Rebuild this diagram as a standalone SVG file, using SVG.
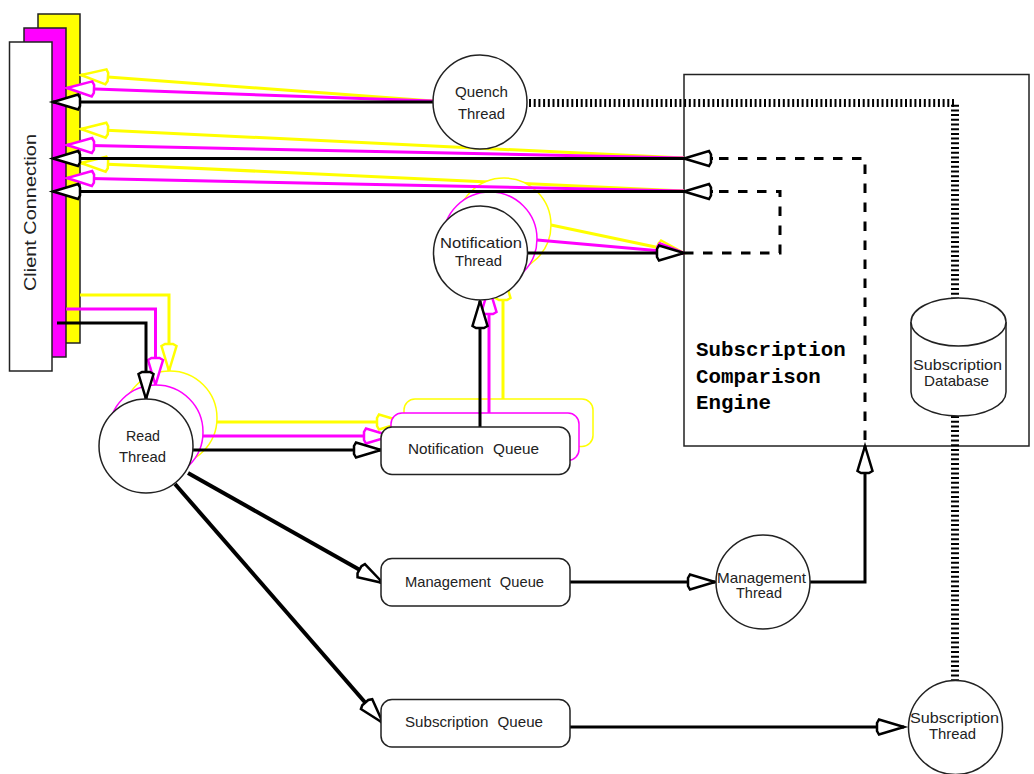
<svg xmlns="http://www.w3.org/2000/svg" width="1034" height="774" viewBox="0 0 1034 774">
<style>
.n{fill:#fff;stroke:#222;stroke-width:1.5}
.ny{fill:#fff;stroke:#ff0;stroke-width:1.5}
.nm{fill:#fff;stroke:#f0f;stroke-width:1.5}
.c{fill:none;stroke-linejoin:miter}
.k{stroke:#000;stroke-width:3;marker-end:url(#hk)}
.kt{stroke:#000;stroke-width:4;marker-end:url(#hk)}
.m{stroke:#f0f;stroke-width:3;marker-end:url(#hm)}
.y{stroke:#ff0;stroke-width:3;marker-end:url(#hy)}
.d{stroke:#000;stroke-width:3;stroke-dasharray:9.5 9.5}
.h{stroke:#000;stroke-width:8;stroke-dasharray:2 2.7}
text{font-family:"Liberation Sans",Arial,sans-serif;font-size:15px;fill:#222;text-anchor:start}
.q{word-spacing:5px}
.t{font-family:"Liberation Mono","Courier New",monospace;font-weight:bold;font-size:20.8px;fill:#000}
.cl{font-size:17px}
</style>
<defs>
<marker id="hk" markerUnits="userSpaceOnUse" markerWidth="40" markerHeight="30" refX="32" refY="12" orient="auto" overflow="visible"><path d="M32,12L7,4.500L5,8V16L7,19.500Z" fill="#fff" stroke="#000" stroke-width="2.500"/></marker>
<marker id="hm" markerUnits="userSpaceOnUse" markerWidth="40" markerHeight="30" refX="32" refY="12" orient="auto" overflow="visible"><path d="M32,12L7,4.500L5,8V16L7,19.500Z" fill="#fff" stroke="#f0f" stroke-width="2.500"/></marker>
<marker id="hy" markerUnits="userSpaceOnUse" markerWidth="40" markerHeight="30" refX="32" refY="12" orient="auto" overflow="visible"><path d="M32,12L7,4.500L5,8V16L7,19.500Z" fill="#fff" stroke="#ff0" stroke-width="2.500"/></marker>
</defs>
<rect width="1034" height="774" fill="#fff"/>
<g id="engine">
<rect class="n" x="684" y="74.500" width="345" height="371.500"/>
<text class="t" x="696" y="356">Subscription</text>
<text class="t" x="696" y="383">Comparison</text>
<text class="t" x="696" y="409">Engine</text>
</g>
<g id="client-yellow"><rect x="38" y="14" width="42" height="329" fill="#ff0" stroke="#222" stroke-width="1.500"/></g>
<g id="connectors-yellow" class="c">
<path class="y" d="M433,101L81,75"/>
<path class="y" d="M684,158L81,129"/>
<path class="y" d="M684,191L81,163"/>
<path class="y" d="M80,295H169V371"/>
<path class="y" d="M217,422H404"/>
<path class="y" d="M503,399V273"/>
<path class="y" d="M551,225L684,253"/>
</g>
<g id="read-yellow"><circle class="ny" cx="170" cy="418" r="47"/></g>
<g id="notification-thread-yellow"><circle class="ny" cx="504" cy="225" r="47"/></g>
<g id="notification-queue-yellow"><rect class="ny" x="404" y="399" width="189" height="47.500" rx="11"/></g>
<g id="client-magenta"><rect x="24" y="28" width="42" height="329" fill="#f0f" stroke="#222" stroke-width="1.500"/></g>
<g id="connectors-magenta" class="c">
<path class="m" d="M433,101L67,88"/>
<path class="m" d="M684,158L67,145"/>
<path class="m" d="M684,191L67,178"/>
<path class="m" d="M66,309H155.500V385"/>
<path class="m" d="M203,436H391"/>
<path class="m" d="M489,413V287"/>
<path class="m" d="M537,240L684,253"/>
</g>
<g id="read-magenta"><circle class="nm" cx="156" cy="432" r="47"/></g>
<g id="notification-thread-magenta"><circle class="nm" cx="490" cy="239" r="47"/></g>
<g id="notification-queue-magenta"><rect class="nm" x="391" y="413" width="188" height="47.500" rx="11"/></g>
<g id="client"><rect class="n" x="9.500" y="42" width="42.500" height="329"/>
<text class="cl" transform="translate(36,291) rotate(-90)" textLength="157" lengthAdjust="spacingAndGlyphs">Client Connection</text></g>
<g id="connectors" class="c">
<path class="k" d="M433,102H53"/>
<path class="k" d="M684,158.500H53"/>
<path class="k" d="M684,191.500H53"/>
<path class="k" d="M527,253H684"/>
<path class="k" d="M57,323H146V399"/>
<path class="k" d="M193,450H381"/>
<path class="kt" d="M188,473L383,583"/>
<path class="kt" d="M175,484L383,723"/>
<path class="k" d="M480,427V301"/>
<path class="k" d="M570,582H715"/>
<path class="k" d="M810,582H865V446"/>
<path class="k" d="M570,727H904"/>
<path class="d" d="M719,158.500H865V446"/>
<path class="d" d="M719,191.500H780V253H684"/>
<path class="k" d="M713,158.500H684"/>
<path class="k" d="M713,191.500H684"/>
<path class="h" d="M529,103H955V298"/>
<path class="h" d="M955,416V681"/>
</g>
<g id="quench-thread"><circle class="n" cx="480" cy="102" r="47"/>
<text x="455" y="97" textLength="53" lengthAdjust="spacingAndGlyphs">Quench</text>
<text x="458" y="119" textLength="47" lengthAdjust="spacingAndGlyphs">Thread</text></g>
<g id="notification-thread"><circle class="n" cx="480.500" cy="253" r="47"/>
<text x="440" y="248" textLength="82" lengthAdjust="spacingAndGlyphs">Notification</text>
<text x="455" y="266" textLength="47" lengthAdjust="spacingAndGlyphs">Thread</text></g>
<g id="read-thread"><circle class="n" cx="146" cy="446" r="47"/>
<text x="126" y="441" textLength="34" lengthAdjust="spacingAndGlyphs">Read</text>
<text x="119" y="462" textLength="47" lengthAdjust="spacingAndGlyphs">Thread</text></g>
<g id="notification-queue"><rect class="n" x="381" y="427" width="189" height="47.500" rx="11"/>
<text class="q" x="408" y="454" textLength="131" lengthAdjust="spacingAndGlyphs">Notification Queue</text></g>
<g id="management-queue"><rect class="n" x="381" y="558.500" width="189" height="47.500" rx="11"/>
<text class="q" x="405" y="587" textLength="139" lengthAdjust="spacingAndGlyphs">Management Queue</text></g>
<g id="subscription-queue"><rect class="n" x="381" y="699.500" width="189" height="47.500" rx="11"/>
<text class="q" x="405" y="727" textLength="138" lengthAdjust="spacingAndGlyphs">Subscription Queue</text></g>
<g id="management-thread"><circle class="n" cx="763" cy="582" r="47"/>
<text x="717" y="583" textLength="89" lengthAdjust="spacingAndGlyphs">Management</text>
<text x="736" y="598" textLength="46" lengthAdjust="spacingAndGlyphs">Thread</text></g>
<g id="subscription-thread"><circle class="n" cx="955.500" cy="727.500" r="47"/>
<text x="910" y="723" textLength="89" lengthAdjust="spacingAndGlyphs">Subscription</text>
<text x="929" y="739" textLength="47" lengthAdjust="spacingAndGlyphs">Thread</text></g>
<g id="subscription-database">
<path class="n" d="M911,322V392C911,405 932,416 958.500,416S1006,405 1006,392V322"/>
<ellipse class="n" cx="958.500" cy="322" rx="47.500" ry="24"/>
<text x="913" y="370" textLength="89" lengthAdjust="spacingAndGlyphs">Subscription</text>
<text x="924" y="386" textLength="65" lengthAdjust="spacingAndGlyphs">Database</text></g>
</svg>
